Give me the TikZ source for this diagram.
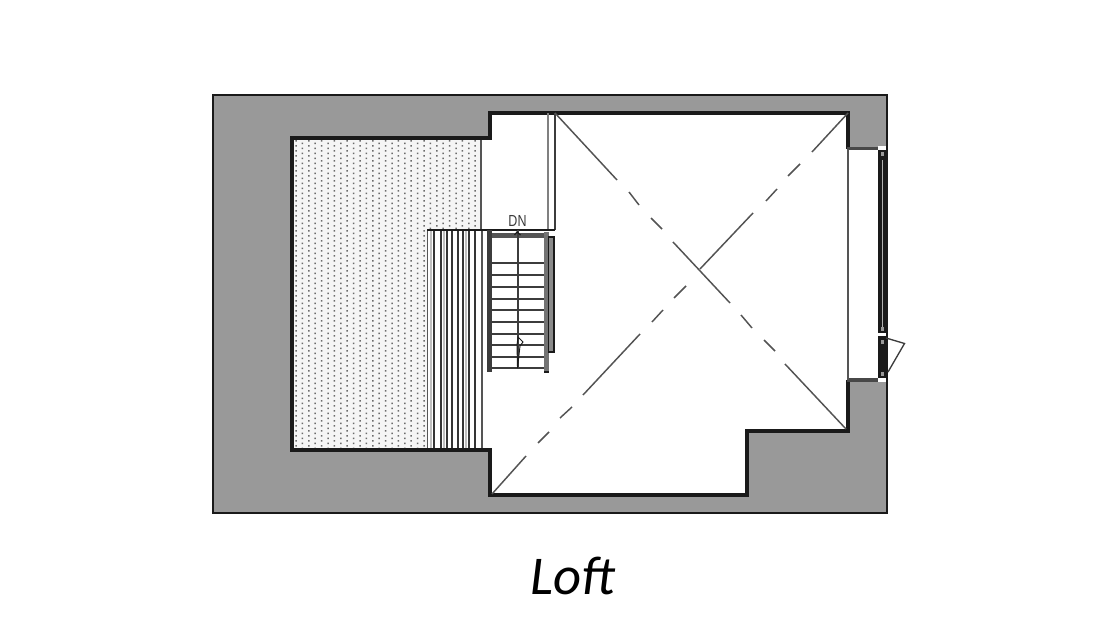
\documentclass[tikz,border=0pt]{standalone}
\usepackage{fontspec}
\setmainfont{Carlito}
\newfontfamily\dvsans{Liberation Sans}
\definecolor{wallgray}{HTML}{999999}
\definecolor{ink}{HTML}{1A1A1A}
\definecolor{midink}{HTML}{555555}
\tikzset{
  x=0.75pt,y=-0.75pt,
  wall/.style={line width=2.3pt,draw=ink,line join=miter},
  thinwall/.style={line width=1.5pt,draw=midink},
  stripe/.style={line width=1.7pt,draw=ink!88!white},
  softstripe/.style={line width=1.5pt,draw=gray!50!white},
  tread/.style={line width=1.2pt,draw=ink!85!white},
  diag/.style={line width=1.1pt,draw=ink!75!white},
  fine/.style={line width=0.7pt,draw=ink}
}
\begin{document}
\begin{tikzpicture}
\useasboundingbox (0,0) rectangle (1100,641);
\fill[white] (0,0) rectangle (1100,641);
% gray roof mass
\fill[wallgray] (213,95) rectangle (887,513);
% dotted area
\fill[white!96!black] (292,138) rectangle (482,450);
\begin{scope}
\clip (292,138) rectangle (482,450);
\foreach \c in {0,...,29}{
  \pgfmathsetmacro{\xx}{296+\c*6.4}
  \pgfmathsetmacro{\off}{mod(\c,2)*2.5}
  \fill[black!58] \foreach \r in {0,...,62}{ (\xx-0.75,141+\off+\r*5-0.75) rectangle (\xx+0.75,141+\off+\r*5+0.75) };
}
\end{scope}
% open room
\fill[white] (490,113) -- (848,113) -- (848,149) -- (879,149) -- (879,380) -- (848,380) -- (848,431) -- (747,431) -- (747,495) -- (490,495) -- (490,450) -- (482,450) -- (482,230) -- (428,230) -- (428,450) -- (482,450) -- (490,450) -- cycle;
\fill[white] (482,138) rectangle (490,450);
\fill[white] (428,230) rectangle (482,450);
% panel stripes
\foreach \p in {430.5,444,466}{\draw[softstripe] (\p,230) -- (\p,450);}
\draw[line width=0.8pt,draw=midink] (427.5,230) -- (427.5,450);
\foreach \p in {434,441,447,452,458,463,469,475}{\draw[stripe] (\p,230) -- (\p,450);}
\draw[line width=2.2pt,draw=midink] (482,230) -- (482,450);
\draw[line width=0.8pt,draw=midink] (481,138) -- (481,230);
% walls
\draw[line width=2.2pt,draw=ink] (213,95) rectangle (887,513);
\draw[wall] (848,149) -- (848,113) -- (490,113) -- (490,138) -- (292,138) -- (292,450) -- (490,450) -- (490,495) -- (747,495) -- (747,431) -- (848,431) -- (848,380);
\draw[line width=2.6pt,draw=ink!80!white] (847,148.5) -- (878,148.5);
\draw[line width=2.6pt,draw=ink!80!white] (847,380) -- (878,380);
\draw[thinwall] (848,149) -- (848,380);
% partition by stairs
\draw[line width=1.5pt,draw=gray] (547.5,113) -- (547.5,230);
\draw[line width=1.3pt,draw=ink!85!white] (555,113) -- (555,230);
\draw[line width=1.5pt,draw=ink] (427,230) -- (555,230);
% stairs
\fill[midink] (491,233) rectangle (546,238);
\foreach \t in {263,275,287,299,310,322,334,345,357,368}{\draw[tread] (491,\t) -- (545,\t);}
\draw[line width=0.9pt,draw=ink!85!white] (518,230) -- (518,368);
\draw[line width=3.2pt,draw=ink!85!white] (489.5,230) -- (489.5,372);
\fill[wallgray!75!black] (544,232) rectangle (549,372);
\draw[line width=1pt,draw=ink] (544,372) -- (549,372);
\fill[wallgray!90!black,draw=ink,line width=1.2pt] (548.5,237) -- (554,237) -- (554,352) -- (548.5,352) -- cycle;
% stair direction arrow
\draw[fine] (517.5,368) -- (520,346) -- (523,342) -- (518,337) -- (517,345) -- (517.5,368);
\draw[line width=0.9pt,draw=ink] (514.5,235) -- (517,232) -- (520.5,235);
\node[inner sep=0pt,xscale=.78,font=\dvsans\fontsize{12pt}{13pt}\selectfont,text=ink!85!white] (dn) at (517.5,220.5) {DN};
% diagonals
\draw[diag] (555,113) -- (617,180);
\draw[diag] (629,192) -- (639,205);
\draw[diag] (651,218) -- (662,229);
\draw[diag] (673,242) -- (730,303);
\draw[diag] (741,315) -- (752,328);
\draw[diag] (764,340) -- (775,351);
\draw[diag] (785,364) -- (846,429);
\draw[diag] (848,113) -- (812,152);
\draw[diag] (800,164) -- (788,176);
\draw[diag] (777,189) -- (766,201);
\draw[diag] (753,213) -- (700,269);
\draw[diag] (686,286) -- (674,298);
\draw[diag] (663,310) -- (652,322);
\draw[diag] (640,334) -- (583,395);
\draw[diag] (572,407) -- (560,418);
\draw[diag] (549,432) -- (538,443);
\draw[diag] (526,456) -- (492,494);
% window
\fill[ink] (878,147) rectangle (887,382);
\fill[gray!60!white] (881.5,160) rectangle (882.5,328);
\fill[white] (878,146.5) rectangle (886,150);
\fill[white] (878,333.5) rectangle (886,336.5);
\fill[white] (878,378.5) rectangle (886,382);
\fill[wallgray] (880.5,152) rectangle (884,156);
\fill[wallgray] (880.5,327) rectangle (884,331);
\fill[wallgray] (880.5,340) rectangle (884,344);
\fill[wallgray] (880.5,372.5) rectangle (884,376);
% door leaf
\draw[line width=1pt,draw=ink!85!white,line join=miter] (886,338) -- (904.5,343.5) -- (888,372);
% title
\node[inner sep=0pt,font=\itshape\fontsize{41pt}{50pt}\selectfont,text=black] (title) at (573,575.5) {Loft};
\end{tikzpicture}
\end{document}
